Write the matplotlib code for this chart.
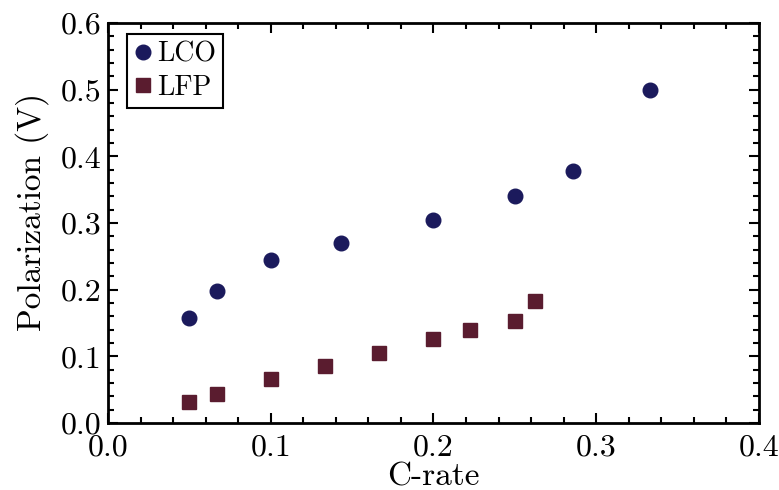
import numpy as np
import matplotlib
matplotlib.use("Agg")
import matplotlib.pyplot as plt
from matplotlib.ticker import MultipleLocator

# data
lco_rate = [0.05, 0.0667, 0.1, 0.1429, 0.2, 0.25, 0.2857, 0.3333]
lco_pol = [0.158, 0.198, 0.244, 0.270, 0.304, 0.341, 0.378, 0.500]

lfp_rate = [0.05, 0.0667, 0.1, 0.1333, 0.1667, 0.2, 0.2222, 0.25, 0.2625]
lfp_pol = [0.031, 0.0435, 0.0655, 0.0855, 0.105, 0.1255, 0.139, 0.1535, 0.183]

plt.rcParams['font.family'] = 'cmr10'
plt.rcParams['mathtext.fontset'] = 'cm'
plt.rcParams['axes.formatter.use_mathtext'] = True

fig = plt.figure(figsize=(7.79, 4.9), dpi=100)
ax = fig.add_axes([0.1386, 0.1367, 0.8357, 0.8163])

ax.plot(lco_rate, lco_pol, 'o', color='#1b1a5c', markersize=10.5, label='LCO')
ax.plot(lfp_rate, lfp_pol, 's', color='#5a1c2f', markersize=10.5, label='LFP')

ax.set_xlim(0, 0.4)
ax.set_ylim(0, 0.6)
ax.xaxis.set_major_locator(MultipleLocator(0.1))
ax.xaxis.set_minor_locator(MultipleLocator(0.02))
ax.yaxis.set_major_locator(MultipleLocator(0.1))
ax.yaxis.set_minor_locator(MultipleLocator(0.02))
ax.xaxis.set_major_formatter(plt.FuncFormatter(lambda v, p: '%.1f' % v))
ax.yaxis.set_major_formatter(plt.FuncFormatter(lambda v, p: '%.1f' % v))

ax.tick_params(which='both', direction='in', top=True, right=True, width=1.5, labelsize=23)
ax.tick_params(which='major', length=7)
ax.tick_params(which='minor', length=4)
ax.tick_params(axis='x', which='major', pad=8)
ax.tick_params(axis='y', which='major', pad=5)
for s in ax.spines.values():
    s.set_linewidth(2)

ax.set_xlabel('C-rate', fontsize=24)
ax.xaxis.set_label_coords(0.5, -0.098)
ax.set_ylabel('Polarization (V)', fontsize=24)
ax.yaxis.set_label_coords(-0.09, 0.527)

leg = ax.legend(loc='upper left', bbox_to_anchor=(0.029, 0.9725), fontsize=20,
                fancybox=False, framealpha=1, edgecolor='black',
                handletextpad=0.2, handlelength=0.65, borderpad=0.25,
                labelspacing=0.25, borderaxespad=0)
leg.get_frame().set_linewidth(1.5)

fig.savefig('out.png', dpi=100)
